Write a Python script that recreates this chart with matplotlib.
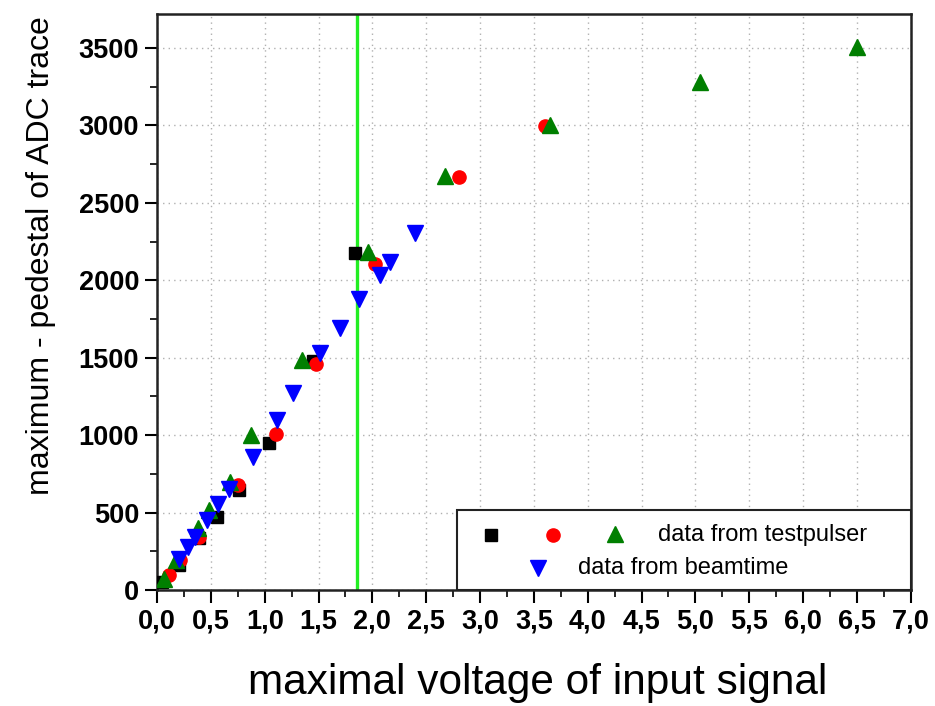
import matplotlib
matplotlib.use('Agg')
from matplotlib import pyplot as plt
from matplotlib.patches import Rectangle

# testpulser data (three runs) and beamtime data
black_x = [0.05, 0.20, 0.39, 0.56, 0.76, 1.04, 1.45, 1.84]
black_y = [54, 161, 338, 473, 646, 947, 1481, 2175]

red_x = [0.11, 0.21, 0.39, 0.75, 1.10, 1.48, 2.02, 2.80, 3.60]
red_y = [97, 194, 344, 678, 1005, 1457, 2103, 2669, 2996]

green_x = [0.065, 0.18, 0.38, 0.48, 0.68, 0.87, 1.35, 1.96, 2.67, 3.65, 5.04, 6.50]
green_y = [69, 194, 402, 517, 700, 1001, 1485, 2185, 2673, 3003, 3280, 3506]

blue_x = [0.20, 0.29, 0.35, 0.46, 0.57, 0.67, 0.89, 1.11, 1.26, 1.51, 1.70, 1.88, 2.07, 2.16, 2.40]
blue_y = [198, 280, 344, 452, 553, 650, 861, 1100, 1270, 1532, 1690, 1877, 2034, 2120, 2305]

vline_x = 1.857

x_ticks = [i * 0.5 for i in range(15)]
x_ticklabels = [f'{t:.1f}'.replace('.', ',') for t in x_ticks]
y_ticks = [0, 500, 1000, 1500, 2000, 2500, 3000, 3500]

plt.rcParams['font.family'] = ['Liberation Sans', 'DejaVu Sans']

fig = plt.figure(figsize=(9.35, 7.06), dpi=100)
ax = fig.add_axes([0.168, 0.1643, 0.806, 0.816])

ax.set_xlim(0, 7)
ax.set_ylim(0, 3720)

ax.grid(True, linestyle=(0, (1, 3)), color='#b0b0b0', linewidth=1)
ax.set_axisbelow(True)

ax.axvline(vline_x, color='#22ee22', linewidth=2.4, zorder=1)

ax.plot(black_x, black_y, 's', color='black', markersize=8, linestyle='none', zorder=3)
ax.plot(red_x, red_y, 'o', color='red', markersize=9.5, linestyle='none', zorder=4)
ax.plot(green_x, green_y, '^', color='#007f00', markersize=11, linestyle='none', zorder=5)
ax.plot(blue_x, blue_y, 'v', color='blue', markersize=11, linestyle='none', zorder=6)

ax.set_xticks(x_ticks)
ax.set_xticklabels(x_ticklabels)
ax.set_yticks(y_ticks)
ax.set_xticks([0.25 + i * 0.5 for i in range(14)], minor=True)
ax.set_yticks([250 + i * 500 for i in range(7)], minor=True)

ax.tick_params(which='major', direction='out', length=9, width=1.5, labelsize=19.5, pad=4)
ax.tick_params(which='minor', direction='out', length=5, width=1.2)
for lab in ax.get_xticklabels() + ax.get_yticklabels():
    lab.set_fontweight('bold')

for sp in ax.spines.values():
    sp.set_linewidth(1.8)
    sp.set_color('#222222')

ax.set_xlabel('maximal voltage of input signal', fontsize=30.5)
ax.set_ylabel('maximum - pedestal of ADC trace', fontsize=23)
ax.xaxis.set_label_coords(0.505, -0.127)
ax.yaxis.set_label_coords(-0.134, 0.58)

# hand-made legend box in the lower right corner
ax.add_patch(Rectangle((0.398, 0.0), 0.602, 0.139, transform=ax.transAxes,
                       facecolor='white', edgecolor='#222222', linewidth=1.5, zorder=7))
ax.plot([0.443], [0.095], 's', color='black', markersize=8, transform=ax.transAxes, zorder=8)
ax.plot([0.525], [0.095], 'o', color='red', markersize=9.5, transform=ax.transAxes, zorder=8)
ax.plot([0.607], [0.097], '^', color='#007f00', markersize=11, transform=ax.transAxes, zorder=8)
ax.text(0.665, 0.095, 'data from testpulser', transform=ax.transAxes, fontsize=17,
        va='center', ha='left', zorder=8)
ax.plot([0.506], [0.039], 'v', color='blue', markersize=11, transform=ax.transAxes, zorder=8)
ax.text(0.558, 0.039, 'data from beamtime', transform=ax.transAxes, fontsize=17,
        va='center', ha='left', zorder=8)

fig.savefig('out.png', dpi=100)
